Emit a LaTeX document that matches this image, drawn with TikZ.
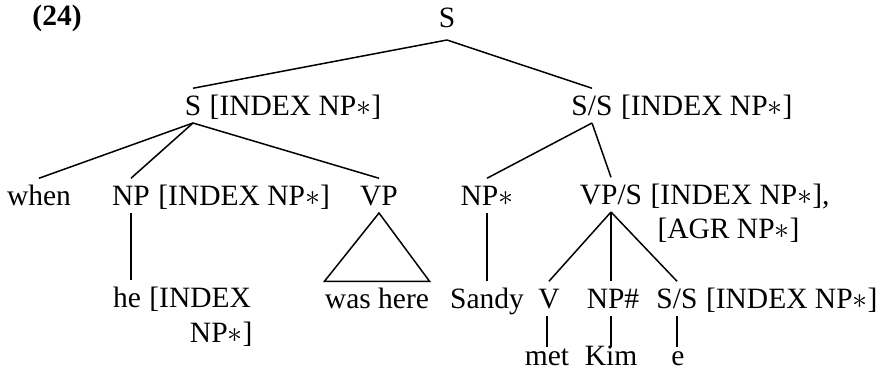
\documentclass[tikz,border=0pt]{standalone}
\usepackage{fontspec}
\setmainfont{Liberation Serif}
\usetikzlibrary{positioning}
\newcommand{\npx}{NP$\ast$}
\tikzset{
  cat/.style={anchor=base, inner xsep=0pt, inner ysep=1.5pt,
    text height=9pt, text depth=1.5pt},
  leaf/.style={cat, inner ysep=0pt, text height=7pt},
  feat/.style={inner xsep=0pt, inner ysep=0pt, base right=3pt of #1},
  branch/.style={line width=0.6pt}
}
\begin{document}
\begin{tikzpicture}[x=0.4pt, y=-0.4pt, font=\fontsize{11.8}{14}\selectfont]
  \useasboundingbox (0,0) rectangle (881,381);
  \node[cat, font=\fontsize{11.8}{14}\selectfont\bfseries] (num) at (57,25) {(24)};
  \node[cat, inner ysep=3.5pt] (root) at (447,27) {S};
  \node[cat] (s1)     at (193,115) {S};
  \node[feat=s1] (s1f) {[INDEX \npx]};
  \node[cat] (ss1)    at (592,115) {S/S};
  \node[feat=ss1] (ss1f) {[INDEX \npx]};
  \node[cat] (when)   at (39,205)  {when};
  \node[cat] (np1)    at (131,205) {NP};
  \node[feat=np1] (np1f) {[INDEX \npx]};
  \node[cat] (vp)     at (379,205) {VP};
  \node[cat] (npstar) at (487,205) {\npx};
  \node[cat] (vps)    at (611,204) {VP/S};
  \node[feat=vps] (vpsf) {[INDEX \npx],};
  \node[inner sep=0pt, anchor=base west] (agr) at (657,238) {[AGR \npx]};
  \node[cat] (he)     at (127,307) {he};
  \node[feat=he] (hef) {[INDEX};
  \node[inner sep=0pt, anchor=base east] (heb) at (253,342) {\npx]};
  \node[cat] (was)    at (377,308) {was here};
  \node[cat] (sandy)  at (487,308) {Sandy};
  \node[cat] (v)      at (549,308) {V};
  \node[cat] (npk)    at (613,308) {NP\#};
  \node[cat] (ss2)    at (677,308) {S/S};
  \node[feat=ss2] (ss2f) {[INDEX \npx]};
  \node[leaf] (met)   at (547,365) {met};
  \node[leaf] (kim)   at (611,365) {Kim};
  \node[leaf] (e)     at (678,365) {e};
  \draw[branch] (root.south) -- (s1.north);
  \draw[branch] (root.south) -- (ss1.north);
  \draw[branch] (s1.south) -- (when.north);
  \draw[branch] (s1.south) -- (np1.north);
  \draw[branch] (s1.south) -- (vp.north);
  \draw[branch] (ss1.south) -- (npstar.north);
  \draw[branch] (ss1.south) -- (vps.north);
  \draw[branch] (np1.south) -- (np1.south |- he.north);
  \draw[branch] (vp.south) -- (was.north east) -- (was.north west) -- cycle;
  \draw[branch] (npstar.south) -- (sandy.north);
  \draw[branch] (vps.south) -- (v.north);
  \draw[branch] (vps.south) -- (vps.south |- npk.north);
  \draw[branch] (vps.south) -- (ss2.north);
  \draw[branch] (v.south -| met.north) -- (met.north);
  \draw[branch] (npk.south -| kim.north) -- (kim.north);
  \draw[branch] (ss2.south) -- (ss2.south |- e.north);
\end{tikzpicture}
\end{document}
